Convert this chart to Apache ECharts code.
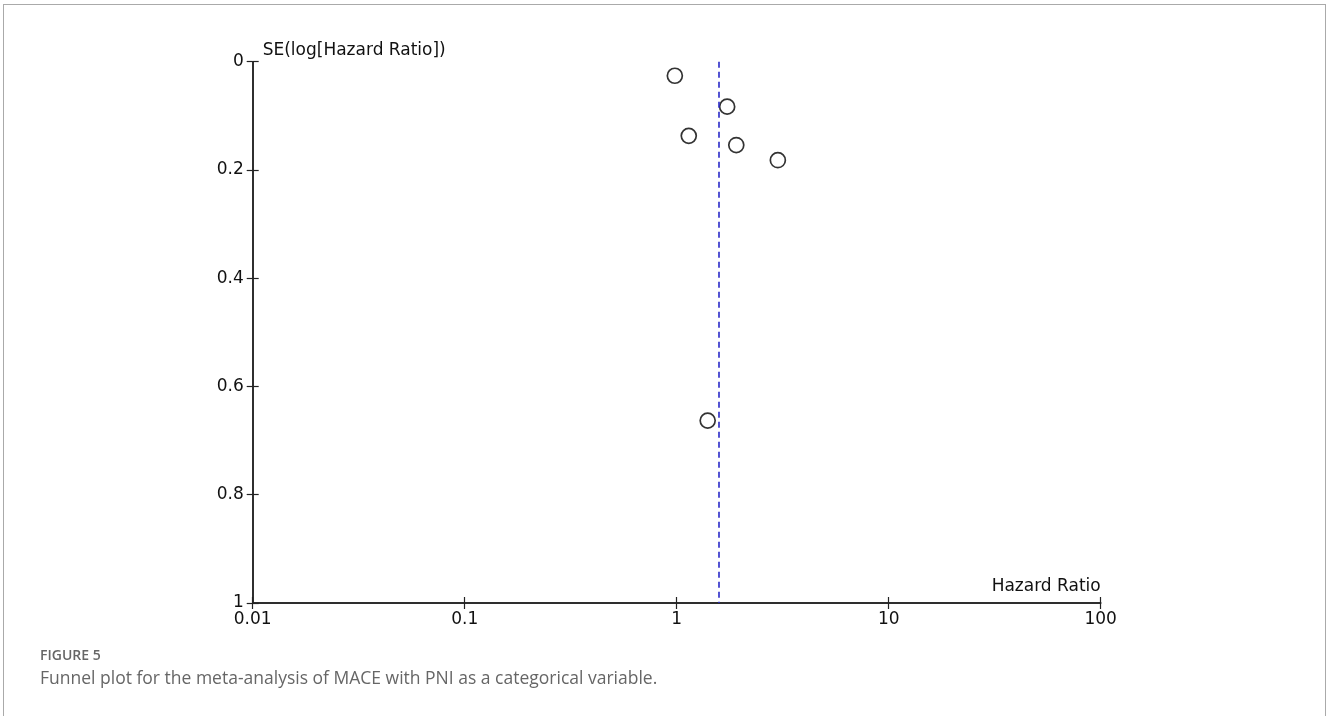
<!DOCTYPE html>
<html>
<head>
<meta charset="utf-8">
<script src="https://cdn.jsdelivr.net/npm/echarts@6/dist/echarts.min.js"></script>
<style>
html,body{margin:0;padding:0;background:#fff;}
#frame{position:absolute;left:3px;top:4px;width:1323px;height:800px;border:1px solid #aaa;border-bottom:none;box-sizing:border-box;}
#chart{position:absolute;left:0;top:0;width:1328px;height:716px;}
#cap1{position:absolute;left:40px;top:648px;line-height:1;font-family:"Open Sans","Noto Sans",sans-serif;font-size:14px;font-weight:600;color:#666;white-space:nowrap;}
#cap2{position:absolute;left:40px;top:669px;line-height:1;font-family:"Open Sans","Noto Sans",sans-serif;font-size:17.5px;color:#666;white-space:nowrap;}
</style>
</head>
<body>
<div id="frame"></div>
<div id="chart"></div>
<div id="cap1">FIGURE 5</div>
<div id="cap2">Funnel plot for the meta-analysis of MACE with PNI as a categorical variable.</div>
<script>
// Study estimates: hazard ratio and SE(log HR)
const hazardRatios = [0.98, 1.73, 1.14, 1.91, 3.00, 1.40];
const seLogHR = [0.026, 0.083, 0.137, 0.154, 0.182, 0.663];
const pooledHR = 1.58;
const xTickLabels = ['0.01', '0.1', '1', '10', '100'];
const yTickLabels = ['0', '0.2', '0.4', '0.6', '0.8', '1'];

const points = hazardRatios.map((hr, i) => [hr, seLogHR[i]]);
const chart = echarts.init(document.getElementById('chart'), null, {renderer: 'canvas'});
const axisColor = '#222';
const tickFont = {fontFamily: 'DejaVu Sans', fontSize: 17, color: '#111'};

const baseX = {
  type: 'log', logBase: 10, min: 0.01, max: 100,
  axisLine: {show: true, onZero: false, lineStyle: {color: axisColor, width: 1.5}},
  splitLine: {show: false}, minorTick: {show: false}
};
const baseY = {
  type: 'value', inverse: true, min: 0, max: 1, interval: 0.2,
  axisLine: {show: true, onZero: false, lineStyle: {color: axisColor, width: 1.5}},
  splitLine: {show: false}
};

chart.setOption({
  animation: false,
  grid: {left: 252.7, right: 227.3, top: 61.7, bottom: 113, containLabel: false},
  xAxis: [
    Object.assign({}, baseX, {
      position: 'bottom',
      axisTick: {show: true, inside: false, length: 6, lineStyle: {color: axisColor, width: 1.2}},
      axisLabel: Object.assign({margin: 8, formatter: v => xTickLabels.find(t => Math.abs(parseFloat(t) - v) < 1e-9 * Math.max(1, v)) || ''}, tickFont),
      name: 'Hazard Ratio', nameLocation: 'end', nameGap: 0,
      nameTextStyle: {fontFamily: 'DejaVu Sans', fontSize: 17, color: '#111', align: 'right', verticalAlign: 'bottom', padding: [0, 0, 8, 0]}
    }),
    Object.assign({}, baseX, {
      position: 'bottom',
      axisTick: {show: true, inside: true, length: 6, lineStyle: {color: axisColor, width: 1.2}},
      axisLabel: {show: false}
    })
  ],
  yAxis: [
    Object.assign({}, baseY, {
      position: 'left',
      axisTick: {show: true, inside: false, length: 6, lineStyle: {color: axisColor, width: 1.2}},
      axisLabel: Object.assign({margin: 9, formatter: (v) => {
        const idx = Math.round(v / 0.2); return yTickLabels[idx] !== undefined ? yTickLabels[idx] : '';
      }}, tickFont),
      name: 'SE(log[Hazard Ratio])', nameLocation: 'start', nameGap: 0,
      nameTextStyle: {fontFamily: 'DejaVu Sans', fontSize: 17, color: '#111', align: 'left', verticalAlign: 'bottom', padding: [0, 0, 3, 10]}
    }),
    Object.assign({}, baseY, {
      position: 'left',
      axisTick: {show: true, inside: true, length: 6, lineStyle: {color: axisColor, width: 1.2}},
      axisLabel: {show: false}
    })
  ],
  series: [{
    type: 'scatter',
    xAxisIndex: 0, yAxisIndex: 0,
    data: points,
    symbol: 'circle', symbolSize: 15,
    itemStyle: {color: 'rgba(255,255,255,0)', borderColor: '#000', borderWidth: 1.7},
    markLine: {
      silent: true, symbol: 'none', label: {show: false},
      lineStyle: {color: '#2828c8', type: [6, 4], width: 1.6},
      data: [{xAxis: pooledHR}]
    }
  }]
});
</script>
</body>
</html>
